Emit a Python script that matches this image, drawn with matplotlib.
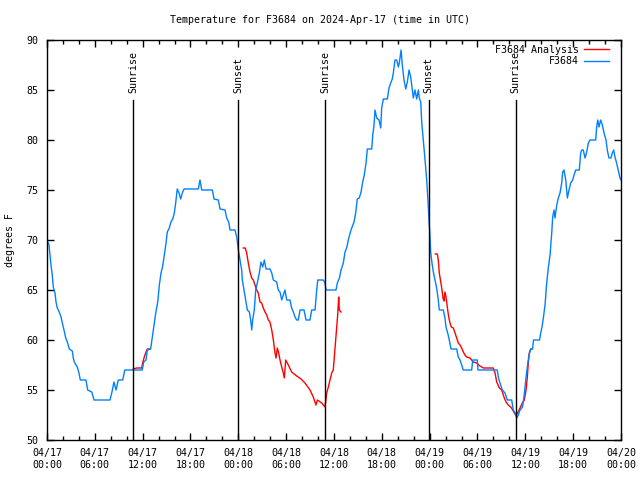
import numpy as np
import pandas as pd
import matplotlib
matplotlib.use("Agg")
import matplotlib.pyplot as plt
import matplotlib.dates as mdates

# hours since 2024-04-17 00:00 UTC, temperature in degrees F
obs_hours = [0.0, 0.25, 0.38, 0.5, 0.66, 0.79, 1.0, 1.13, 1.29, 1.54, 1.76, 1.92, 2.13, 2.35, 2.55,
             2.8, 3.17, 3.3, 3.42, 3.8, 4.01, 4.18, 4.89, 5.1, 5.61, 5.9, 7.9, 8.12, 8.4, 8.66,
             8.94, 9.5, 9.75, 11.95, 12.13, 12.42, 12.58, 13.0, 13.21, 13.42, 13.64, 13.89, 14.09,
             14.3, 14.49, 14.71, 14.9, 15.09, 15.34, 15.55, 15.77, 15.97, 16.14, 16.34, 16.56,
             16.77, 16.97, 17.19, 18.98, 19.19, 19.41, 20.74, 20.95, 21.49, 21.7, 22.33, 22.54,
             22.79, 22.96, 23.58, 23.8, 24.0, 24.21, 24.42, 24.5, 24.71, 24.96, 25.13, 25.38,
             25.55, 25.68, 25.8, 26.0, 26.18, 26.38, 26.63, 26.84, 27.06, 27.26, 27.47, 27.97,
             28.19, 28.39, 28.81, 29.01, 29.23, 29.44, 29.64, 29.85, 30.07, 30.48, 30.69, 30.9,
             31.11, 31.32, 31.52, 31.74, 32.24, 32.49, 32.99, 33.2, 33.62, 33.83, 33.96, 34.66,
             34.87, 35.0, 36.25, 36.42, 36.68, 36.88, 37.17, 37.38, 37.59, 37.79, 38.13, 38.51,
             38.72, 38.92, 39.17, 39.39, 39.6, 39.8, 40.02, 40.18, 40.73, 40.86, 41.02, 41.14,
             41.36, 41.65, 41.86, 41.98, 42.19, 42.69, 42.9, 43.11, 43.31, 43.44, 43.65, 43.87,
             44.07, 44.19, 44.41, 44.57, 44.78, 45.0, 45.2, 45.41, 45.62, 45.82, 45.95, 46.16,
             46.37, 46.58, 46.7, 46.88, 47.0, 47.2, 47.42, 47.63, 47.83, 47.92, 48.0, 48.13,
             48.29, 48.46, 48.67, 48.88, 49.08, 49.21, 49.71, 49.92, 50.05, 50.26, 50.46, 50.68,
             51.39, 51.59, 51.81, 52.02, 52.22, 53.27, 53.4, 53.98, 54.06, 56.48, 56.61, 56.82,
             57.11, 57.45, 57.74, 58.29, 58.49, 58.71, 58.92, 59.12, 59.33, 59.65, 59.86, 60.05,
             60.25, 60.46, 60.68, 60.9, 61.03, 61.78, 61.93, 62.09, 62.26, 62.47, 62.68, 62.88,
             63.1, 63.31, 63.43, 63.6, 63.72, 63.94, 64.14, 64.35, 64.56, 64.69, 64.85, 65.07,
             65.27, 65.48, 65.69, 65.94, 66.11, 66.32, 66.77, 66.94, 67.07, 67.27, 67.49, 67.7,
             67.9, 68.11, 68.83, 68.95, 69.08, 69.24, 69.45, 69.66, 69.87, 70.12, 70.28, 70.49,
             70.74, 70.91, 71.08, 71.24, 71.45, 71.65, 71.87, 72.0]
obs_temp = [70.0, 69.5, 68.5, 67.5, 66.5, 65.3, 64.7, 63.8, 63.2, 62.8, 62.3, 61.7, 61.0, 60.2, 59.8,
            59.1, 58.9, 58.2, 57.8, 57.3, 56.7, 56.0, 56.0, 55.0, 54.8, 54.0, 54.0, 54.7, 55.8, 55.0,
            56.0, 56.0, 57.0, 57.0, 57.8, 58.0, 59.0, 59.1, 60.3, 61.5, 62.7, 63.8, 65.5,
            66.7, 67.3, 68.5, 69.5, 70.8, 71.2, 71.8, 72.1, 72.7, 73.7, 75.1, 74.7,
            74.1, 74.7, 75.1, 75.1, 76.0, 75.0, 75.0, 74.1, 74.0, 73.1, 73.0, 72.2,
            71.8, 71.0, 71.0, 70.3, 69.0, 68.0, 67.0, 66.0, 65.0, 63.8, 63.0, 62.8,
            62.0, 61.0, 62.0, 63.0, 65.0, 65.7, 66.7, 67.8, 67.3, 68.0, 67.1, 67.1,
            66.7, 66.0, 65.8, 65.0, 64.8, 64.0, 64.5, 65.0, 64.0, 64.0, 63.2, 62.8,
            62.3, 62.0, 62.0, 63.0, 63.0, 62.0, 62.0, 63.0, 63.0, 65.0, 66.0, 66.0,
            65.7, 65.0, 65.0, 65.7, 66.2, 67.0, 67.7, 68.8, 69.2, 70.0, 71.0, 71.8,
            72.7, 74.1, 74.2, 74.8, 75.8, 76.5, 77.7, 79.1, 79.1, 80.5, 81.5, 83.0,
            82.2, 82.0, 81.2, 83.2, 84.1, 84.1, 85.2, 85.7, 86.1, 86.7, 88.0, 88.0,
            87.3, 87.7, 89.0, 87.5, 86.0, 85.1, 85.8, 87.0, 86.3, 85.0, 84.2, 85.0,
            84.1, 85.0, 84.2, 83.8, 81.8, 80.0, 78.0, 76.0, 73.3, 71.8, 71.0, 68.8,
            67.7, 66.8, 66.0, 65.2, 64.0, 63.0, 63.0, 62.2, 61.3, 60.7, 60.0, 59.1,
            59.1, 58.3, 58.0, 57.5, 57.0, 57.0, 58.0, 58.0, 57.0, 57.0, 56.3, 55.7,
            55.0, 54.7, 54.0, 54.0, 53.0, 52.7, 52.2, 52.5, 53.0, 53.3, 54.5, 56.0,
            57.3, 58.5, 59.1, 59.1, 60.0, 60.0, 60.7, 61.3, 62.2, 63.5, 65.7, 67.2,
            68.5, 70.7, 72.3, 73.0, 72.2, 73.5, 74.2, 74.7, 75.7, 76.8, 77.0, 76.0,
            74.2, 75.0, 75.7, 76.0, 76.5, 77.0, 77.0, 78.7, 79.0, 79.0, 78.2, 78.8,
            79.7, 80.0, 80.0, 81.3, 82.0, 81.3, 82.0, 81.5, 80.7, 80.0, 79.0, 78.2,
            78.2, 78.7, 79.0, 78.3, 77.7, 77.0, 76.2, 76.0]

# analysis runs (three separate pieces)
ana1_hours = [10.83, 11.25, 11.88, 12.0, 12.2, 12.42, 12.58, 12.92]
ana1_temp = [57.1, 57.2, 57.2, 57.7, 58.3, 58.8, 59.1, 59.1]

ana2_hours = [24.62, 24.87, 25.05, 25.25, 25.46, 25.68, 25.88, 26.09, 26.3, 26.5, 26.72, 26.93,
              27.13, 27.35, 27.56, 27.76, 27.97, 28.19, 28.39, 28.6, 28.73, 28.89, 29.06, 29.23,
              29.44, 29.64, 29.77, 29.94, 30.27, 30.69, 31.32, 31.86, 32.36, 32.99, 33.4, 33.74,
              33.91, 34.46, 34.87, 35.09, 35.29, 35.5, 35.71, 35.91, 36.04, 36.21, 36.34, 36.46,
              36.59, 36.66, 36.88]
ana2_temp = [69.2, 69.2, 68.7, 67.7, 66.8, 66.2, 66.0, 65.5, 65.0, 64.7, 63.8, 63.7,
             63.2, 62.8, 62.5, 62.0, 61.8, 61.0, 60.0, 58.7, 58.2, 59.2, 58.7, 58.0,
             57.3, 56.7, 56.2, 58.0, 57.5, 56.8, 56.4, 56.1, 55.7, 55.0, 54.3, 53.5,
             54.0, 53.7, 53.3, 54.7, 55.3, 56.0, 56.7, 57.0, 58.3, 60.0, 61.3, 62.5,
             64.3, 63.0, 62.8]

ana3_hours = [48.71, 48.96, 49.08, 49.21, 49.39, 49.55, 49.67, 49.8, 49.92, 50.05, 50.21, 50.39,
              50.55, 50.72, 50.97, 51.18, 51.39, 51.59, 51.81, 52.02, 52.22, 52.43, 52.64, 53.06,
              53.47, 53.9, 54.31, 54.73, 55.98, 56.2, 56.41, 56.74, 57.04, 57.32, 57.58, 57.86,
              58.17, 58.42, 58.62, 58.83, 59.04, 59.33, 59.62, 59.87, 60.09, 60.25, 60.37, 60.5,
              60.68, 60.8]
ana3_temp = [68.6, 68.6, 68.0, 66.7, 65.8, 65.0, 64.2, 63.9, 64.8, 64.3, 63.3, 62.3,
             61.7, 61.3, 61.2, 60.7, 60.2, 59.7, 59.5, 59.2, 58.8, 58.5, 58.3, 58.2,
             57.8, 57.7, 57.4, 57.2, 57.2, 56.7, 55.8, 55.2, 55.0, 54.3, 53.8, 53.5,
             53.3, 53.0, 52.7, 52.5, 52.7, 53.2, 53.7, 54.0, 55.0, 56.3, 57.7, 58.7,
             59.1, 59.1]

event_hours = [10.8, 24.0, 34.9, 47.9, 58.8]
event_names = ["Sunrise", "Sunset", "Sunrise", "Sunset", "Sunrise"]

t0 = pd.Timestamp("2024-04-17 00:00")


def to_time(hours):
    return t0 + pd.to_timedelta(np.array(hours), unit="h")


plt.rcParams['font.family'] = ['DejaVu Sans Mono']
fs = 7.2

fig = plt.figure(figsize=(6.4, 4.8), dpi=100)
ax = fig.add_axes([47 / 640, 40 / 480, 574 / 640, 400 / 480])

red = '#ff0000'
blue = '#0080ff'
ax.plot(to_time(ana1_hours), ana1_temp, color=red, lw=1.0, label="F3684 Analysis")
ax.plot(to_time(ana2_hours), ana2_temp, color=red, lw=1.0)
ax.plot(to_time(ana3_hours), ana3_temp, color=red, lw=1.0)
ax.plot(to_time(obs_hours), obs_temp, color=blue, lw=1.0, label="F3684")

for h, name in zip(event_hours, event_names):
    t = to_time([h])[0]
    ax.plot([t, t], [50, 84], color='black', lw=1.0)
    ax.text(t, 84.7, name, rotation=90, ha='center', va='bottom', fontsize=fs)

ax.set_xlim(t0, t0 + pd.Timedelta(hours=72))
ax.set_ylim(50, 90)
ax.xaxis.set_major_locator(mdates.HourLocator(byhour=[0, 6, 12, 18]))
ax.xaxis.set_minor_locator(mdates.HourLocator(byhour=range(0, 24, 2)))
ax.xaxis.set_major_formatter(mdates.DateFormatter('%m/%d\n%H:%M'))
ax.set_yticks(np.arange(50, 91, 5))
ax.tick_params(axis='both', which='major', direction='in', length=5, width=1,
               top=True, right=True, labelsize=fs)
ax.tick_params(axis='x', which='minor', direction='in', length=3, width=1, top=True)
ax.tick_params(axis='x', pad=6)
ax.tick_params(axis='y', pad=6)
for spine in ax.spines.values():
    spine.set_linewidth(1)

fig.text(0.5, 1 - 20 / 480, "Temperature for F3684 on 2024-Apr-17 (time in UTC)",
         ha='center', va='center', fontsize=fs)
fig.text(10 / 640, 0.5, "degrees F", rotation=90, ha='center', va='center', fontsize=fs)

leg = ax.legend(loc='upper right', bbox_to_anchor=(1 - 7 / 574, 1.0), frameon=False,
                markerfirst=False, alignment='right',
                handlelength=2.5, handletextpad=0.5, borderaxespad=0.1, labelspacing=0.15,
                fontsize=fs)

fig.savefig("out.png", dpi=100)
